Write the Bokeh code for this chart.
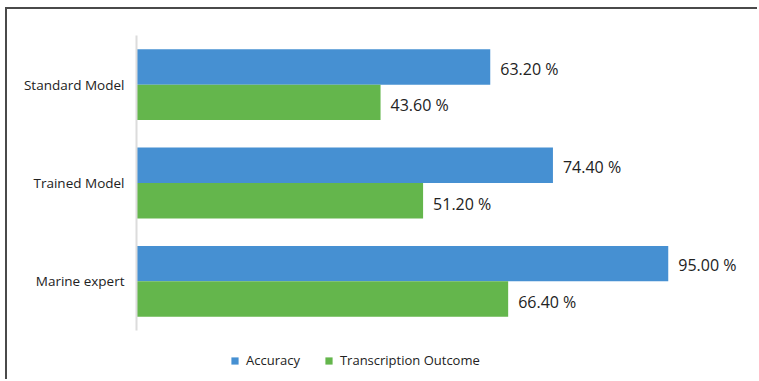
from bokeh.plotting import figure
from bokeh.models import ColumnDataSource, Legend, LegendItem, LabelSet, Range1d, FixedTicker
from bokeh.core.properties import value
from bokeh.transform import dodge
from bokeh.embed import file_html
from bokeh.resources import INLINE

categories = ["Marine expert", "Trained Model", "Standard Model"]
accuracy = [95.00, 74.40, 63.20]
transcription = [66.40, 51.20, 43.60]
series_names = ["Accuracy", "Transcription Outcome"]
colors = ["#4690d2", "#64b64c"]

ypos = list(range(len(categories)))
src = ColumnDataSource(data=dict(
    cat=categories,
    pos=ypos,
    acc=accuracy,
    tr=transcription,
    acc_lbl=["%.2f %%" % v for v in accuracy],
    tr_lbl=["%.2f %%" % v for v in transcription],
))

FONT = "Open Sans"

p = figure(width=752, height=372, x_range=(0, 108.8), y_range=Range1d(-1.019, 2.5),
           output_backend="svg", toolbar_location=None,
           min_border_left=129, min_border_right=14,
           min_border_top=26, min_border_bottom=0)
p.styles = {"margin-left": "5px", "margin-top": "7px",
            "border-left": "2px solid #4a4a4a", "border-top": "2px solid #4a4a4a"}

bw = 0.36
r1 = p.hbar(y=dodge("pos", 0.18), right="acc", left=0, height=bw,
            source=src, fill_color=colors[0], line_color=None)
r2 = p.hbar(y=dodge("pos", -0.18), right="tr", left=0, height=bw,
            source=src, fill_color=colors[1], line_color=None)

for col, lbl, off in (("acc", "acc_lbl", 0.163), ("tr", "tr_lbl", -0.21)):
    ls = LabelSet(x=col, y=dodge("pos", off), text=lbl, source=src,
                  x_offset=10, text_baseline="middle", text_font=value(FONT),
                  text_font_size="16px", text_color="#222222")
    p.add_layout(ls)

p.xaxis.visible = False
p.xgrid.visible = False
p.ygrid.visible = False
p.outline_line_color = None
yax = p.yaxis[0]
yax.ticker = FixedTicker(ticks=ypos)
yax.major_label_overrides = {i: c for i, c in zip(ypos, categories)}
yax.bounds = (-0.5, 2.5)
yax.axis_line_color = "#dcdcdc"
yax.axis_line_width = 2
yax.major_tick_line_color = None
yax.minor_tick_line_color = None
yax.major_tick_out = 0
yax.major_tick_in = 0
yax.major_label_text_font = FONT
yax.major_label_text_font_size = "13.5px"
yax.major_label_text_color = "#222222"
yax.major_label_standoff = 12

legend = Legend(items=[LegendItem(label=series_names[0], renderers=[r1]),
                       LegendItem(label=series_names[1], renderers=[r2])],
                orientation="horizontal", location=(94, 12),
                glyph_width=9, glyph_height=9, label_text_font=FONT,
                label_text_font_size="13px", label_text_color="#222222",
                spacing=24, padding=0, margin=0, border_line_color=None,
                background_fill_alpha=0, label_standoff=7)
p.add_layout(legend, "center")

open("out.html", "w").write(file_html(p, INLINE))
